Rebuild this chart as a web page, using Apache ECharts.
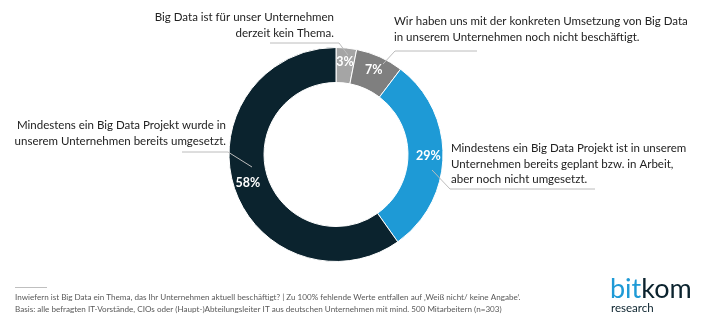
<!DOCTYPE html>
<html><head><meta charset="utf-8">
<script src="https://cdn.jsdelivr.net/npm/echarts@6/dist/echarts.min.js"></script>
<style>html,body{margin:0;padding:0;background:#fff}#c{width:720px;height:323px}</style>
</head><body><div id="c"></div>
<script>
const categories = [
  'Big Data ist für unser Unternehmen\nderzeit kein Thema.',
  'Wir haben uns mit der konkreten Umsetzung von Big Data\nin unserem Unternehmen noch nicht beschäftigt.',
  'Mindestens ein Big Data Projekt ist in unserem\nUnternehmen bereits geplant bzw. in Arbeit,\naber noch nicht umgesetzt.',
  'Mindestens ein Big Data Projekt wurde in\nunserem Unternehmen bereits umgesetzt.'
];
const values = [3, 7, 29, 58];
const colors = ['#a5a5a5', '#7f7f7f', '#1e9ad6', '#0b232e'];
const footnote1 = 'Inwiefern ist Big Data ein Thema, das Ihr Unternehmen aktuell beschäftigt? | Zu 100% fehlende Werte entfallen auf ‚Weiß nicht/ keine Angabe‘.';
const footnote2 = 'Basis: alle befragten IT-Vorstände, CIOs oder (Haupt-)Abteilungsleiter IT aus deutschen Unternehmen mit mind. 500 Mitarbeitern (n=303)';

const FONT = 'Lato';
const chart = echarts.init(document.getElementById('c'));
const txtStyle = {fontFamily: FONT, fontSize: 11.5, fill: '#222', lineHeight: 15.5};
const lineStyle = {stroke: '#bcbcbc', lineWidth: 1, fill: null};
const annot = [
  {text: categories[0], x: 334, y: 10, align: 'right', pts: [[348,55],[339,43],[270,43]]},
  {text: categories[1], x: 394, y: 14, align: 'left', pts: [[383,64],[395,51],[477,51]]},
  {text: categories[2], x: 451, y: 141, align: 'left', pts: [[432,170],[450,189],[595,189]]},
  {text: categories[3], x: 226, y: 118, align: 'right', pts: [[252,167],[228,152],[182,152]]}
];
const graphic = [];
annot.forEach(a => {
  graphic.push({type: 'text', x: a.x, y: a.y, style: Object.assign({}, txtStyle, {text: a.text, textAlign: a.align, textVerticalAlign: 'top'})});
  graphic.push({type: 'polyline', shape: {points: a.pts}, style: lineStyle, z: 10});
});
graphic.push({type: 'line', shape: {x1: 15, y1: 287.5, x2: 47, y2: 287.5}, style: {stroke: '#bfbfbf', lineWidth: 1}});
graphic.push({type: 'text', x: 15, y: 293, style: {text: footnote1, fontFamily: FONT, fontSize: 8.1, fill: '#595959'}});
graphic.push({type: 'text', x: 15, y: 305, style: {text: footnote2, fontFamily: FONT, fontSize: 8.1, fill: '#595959'}});
graphic.push({type: 'text', x: 610, y: 276, style: {text: '{a|bit}{b|kom}', rich: {a: {fontFamily: FONT, fontSize: 27, fill: '#1e9ad6'}, b: {fontFamily: FONT, fontSize: 27, fill: '#0b232e'}}}});
graphic.push({type: 'text', x: 611, y: 302, style: {text: 'research', fontFamily: FONT, fontSize: 11.5, fill: '#0b232e'}});

chart.setOption({
  animation: false,
  color: colors,
  series: [{
    type: 'pie',
    center: [336, 154.5],
    radius: [72, 107],
    startAngle: 90,
    clockwise: true,
    itemStyle: {borderColor: '#fff', borderWidth: 1},
    label: {show: true, position: 'inside', formatter: p => p.value + '%', color: '#fff', fontFamily: FONT, fontWeight: 'bold', fontSize: 12.5},
    labelLine: {show: false},
    emphasis: {disabled: true},
    data: values.map((v, i) => ({value: v, name: categories[i]}))
  }],
  graphic: graphic
});
</script></body></html>
